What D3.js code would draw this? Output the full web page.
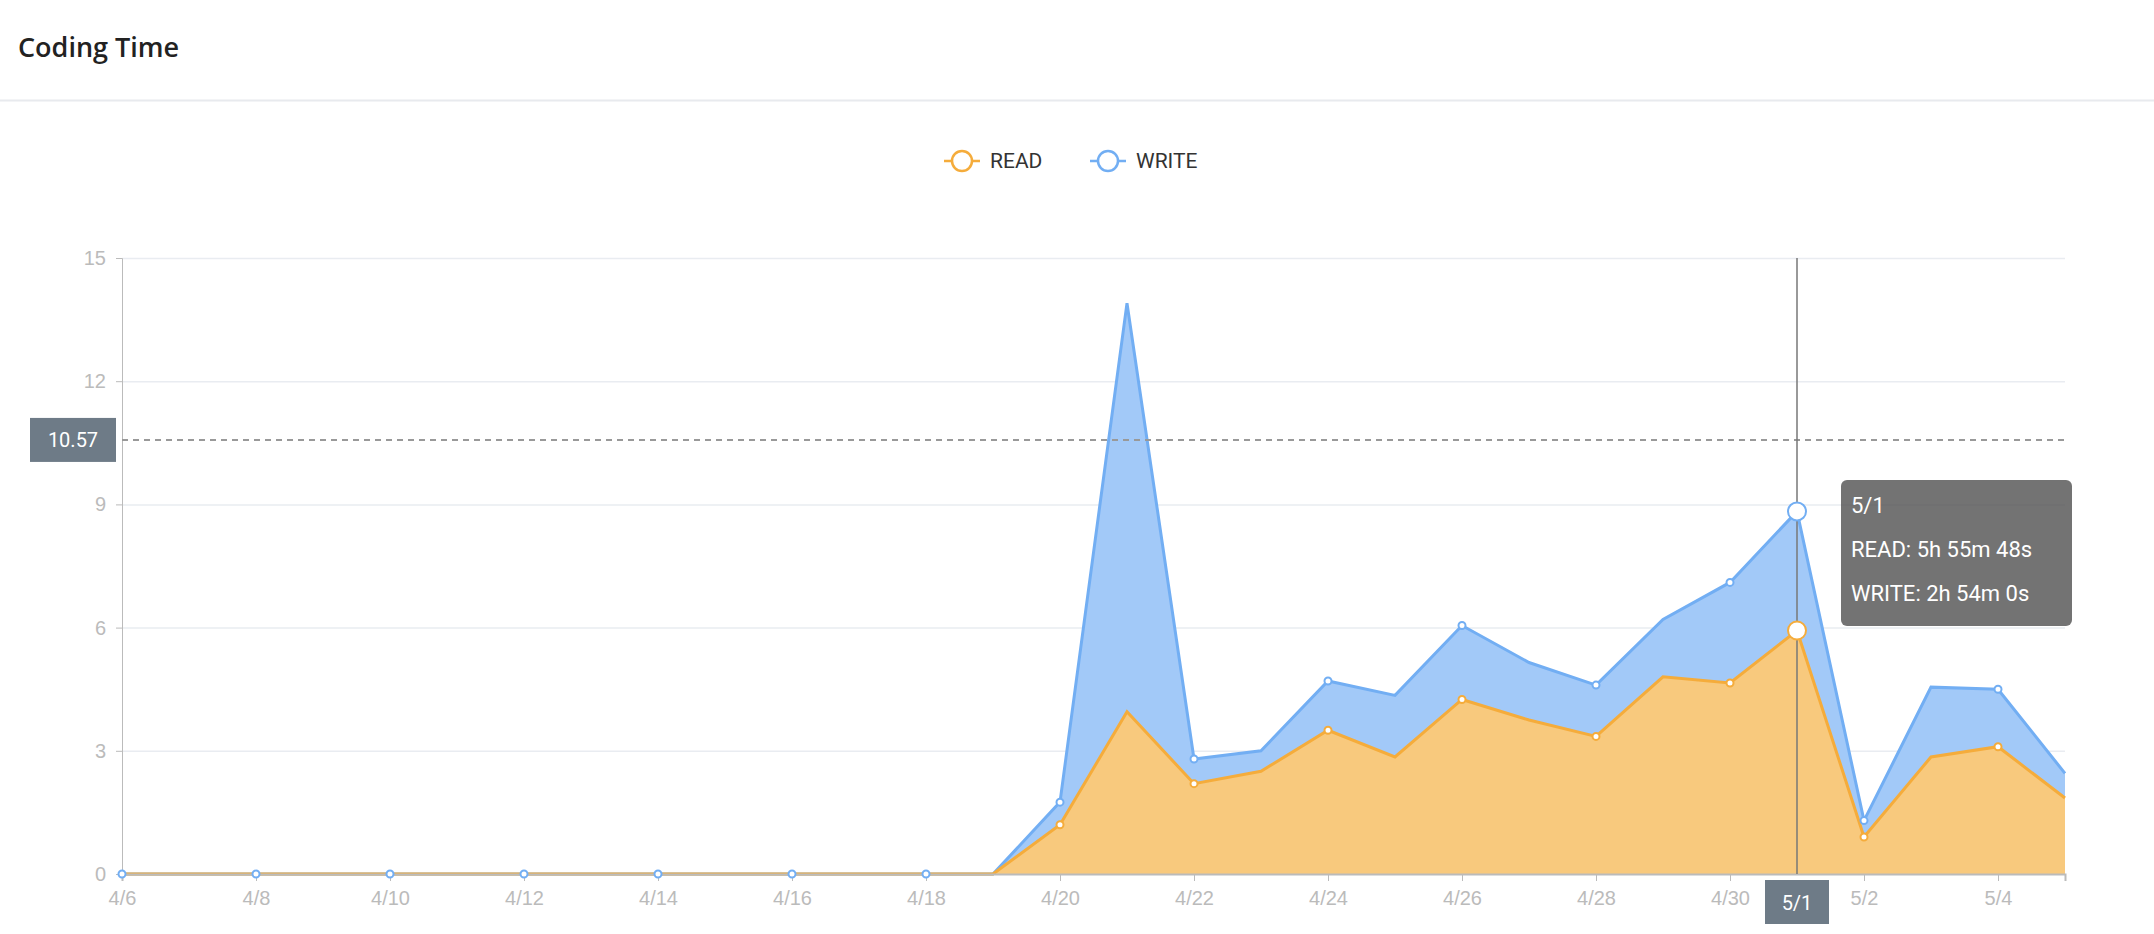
<!DOCTYPE html>
<html>
<head>
<meta charset="utf-8">
<script src="https://cdn.jsdelivr.net/npm/d3@7"></script>
<style>
  body { margin: 0; background: #fff; font-family: "Helvetica Neue", Roboto, "Liberation Sans", sans-serif; }
</style>
</head>
<body>
<svg id="chart" width="2154" height="934"></svg>
<script>
let WIDTH = 2154;
let HEIGHT = 934;

// data (hours)
var days = ["4/6","4/7","4/8","4/9","4/10","4/11","4/12","4/13","4/14","4/15","4/16","4/17","4/18","4/19",
  "4/20","4/21","4/22","4/23","4/24","4/25","4/26","4/27","4/28","4/29","4/30","5/1","5/2","5/3","5/4","5/5"];
var readHours = [0,0,0,0,0,0,0,0,0,0,0,0,0,0,
  1.2,3.95,2.2,2.5,3.5,2.85,4.25,3.75,3.35,4.8,4.65,5.93,0.9,2.85,3.1,1.85];
var writeHours = [0,0,0,0,0,0,0,0,0,0,0,0,0,0,
  0.55,9.95,0.6,0.5,1.2,1.5,1.8,1.4,1.25,1.4,2.45,2.9,0.4,1.7,1.4,0.6];
var yTicks = [0,3,6,9,12,15];
var averageValue = 10.57;
var hoverDay = "5/1";
var tooltipLines = ["5/1", "READ: 5h 55m 48s", "WRITE: 2h 54m 0s"];

var colors = { read: "#f5ac3b", readFill: "#f8c97d", write: "#72aef3", writeFill: "#a2c9f8" };

var svg = d3.select("#chart");

// header
svg.append("text").attr("x", 18).attr("y", 57)
  .style("font-family", "'Open Sans', sans-serif").style("font-weight", 600)
  .style("font-size", "27px").attr("fill", "#222").text("Coding Time");
svg.append("line").attr("x1", 0).attr("x2", WIDTH).attr("y1", 100.5).attr("y2", 100.5)
  .attr("stroke", "#e8eaee").attr("stroke-width", 2);

var margin = { left: 122, right: 2065, top: 258, bottom: 874 };
var x = d3.scalePoint().domain(days).range([margin.left, margin.right]);
var y = d3.scaleLinear().domain([0, 15]).range([margin.bottom, margin.top]);

// grid
var g = svg.append("g");
g.selectAll(".grid").data(yTicks.slice(1)).enter().append("line")
  .attr("x1", margin.left).attr("x2", margin.right)
  .attr("y1", d => y(d) + 0.5).attr("y2", d => y(d) + 0.5)
  .attr("stroke", "#e9ecf1").attr("stroke-width", 1.5);

// y axis
var yAxis = g.append("g").attr("transform", "translate(" + margin.left + ",0)")
  .call(d3.axisLeft(y).tickValues(yTicks).tickSize(6).tickPadding(10));
yAxis.select(".domain").attr("stroke", "#bbb");
yAxis.selectAll(".tick line").attr("stroke", "#bbb");
yAxis.selectAll("text").attr("fill", "#bbb").style("font-size", "20px");

var stacked = days.map((d, i) => ({ day: d, r: readHours[i], t: readHours[i] + writeHours[i] }));

var writeArea = d3.area().x(d => x(d.day)).y0(d => y(d.r)).y1(d => y(d.t));
var readArea = d3.area().x(d => x(d.day)).y0(y(0)).y1(d => y(d.r));

g.append("path").datum(stacked).attr("d", writeArea).attr("fill", colors.writeFill);
g.append("path").datum(stacked).attr("d", readArea).attr("fill", colors.readFill);
g.append("path").datum(stacked).attr("d", d3.line().x(d => x(d.day)).y(d => y(d.t)))
  .attr("fill", "none").attr("stroke", colors.write).attr("stroke-width", 3);
g.append("path").datum(stacked).attr("d", d3.line().x(d => x(d.day)).y(d => y(d.r)))
  .attr("fill", "none").attr("stroke", colors.read).attr("stroke-width", 3);

// x axis
var xAxis = g.append("g").attr("transform", "translate(0," + margin.bottom + ")")
  .call(d3.axisBottom(x).tickValues(days.filter((d, i) => i % 2 === 0)).tickSize(7).tickPadding(10));
xAxis.select(".domain").attr("stroke", "#bbb").attr("stroke-width", 2);
xAxis.selectAll(".tick line").attr("stroke", "#bbb");
xAxis.selectAll("text").attr("fill", "#bbb").style("font-size", "20px");

// average line
g.append("line").attr("x1", margin.left).attr("x2", margin.right)
  .attr("y1", y(averageValue)).attr("y2", y(averageValue))
  .attr("stroke", "#999").attr("stroke-width", 2).attr("stroke-dasharray", "6,5");
g.append("rect").attr("x", 30).attr("y", y(averageValue) - 22).attr("width", 86).attr("height", 44)
  .attr("fill", "#6e7b87");
g.append("text").attr("x", 73).attr("y", y(averageValue) + 7).attr("text-anchor", "middle")
  .attr("fill", "#fff").style("font-size", "20px").text(averageValue);

// crosshair
var hx = x(hoverDay);
g.append("line").attr("x1", hx).attr("x2", hx).attr("y1", margin.top).attr("y2", margin.bottom)
  .attr("stroke", "#777").attr("stroke-width", 1.5);

// symbols on every other point
var sym = stacked.filter((d, i) => i % 2 === 0 && d.day !== hoverDay);
g.selectAll(".wdot").data(sym).enter().append("circle")
  .attr("cx", d => x(d.day)).attr("cy", d => y(d.t)).attr("r", 3.5)
  .attr("fill", "#fff").attr("stroke", colors.write).attr("stroke-width", 2);
g.selectAll(".rdot").data(sym.filter(d => d.r > 0)).enter().append("circle")
  .attr("cx", d => x(d.day)).attr("cy", d => y(d.r)).attr("r", 3.5)
  .attr("fill", "#fff").attr("stroke", colors.read).attr("stroke-width", 2);

var hd = stacked[days.indexOf(hoverDay)];
g.append("circle").attr("cx", hx).attr("cy", y(hd.t)).attr("r", 9)
  .attr("fill", "#fff").attr("stroke", colors.write).attr("stroke-width", 2);
g.append("circle").attr("cx", hx).attr("cy", y(hd.r)).attr("r", 9)
  .attr("fill", "#fff").attr("stroke", colors.read).attr("stroke-width", 2);

// axis pointer label
g.append("rect").attr("x", hx - 32).attr("y", margin.bottom + 6).attr("width", 64).attr("height", 44)
  .attr("fill", "#6e7b87");
g.append("text").attr("x", hx).attr("y", margin.bottom + 36).attr("text-anchor", "middle")
  .attr("fill", "#fff").style("font-size", "20px").text(hoverDay);

// legend
var legend = svg.append("g").attr("transform", "translate(944,161)");
[["READ", colors.read, 0], ["WRITE", colors.write, 146]].forEach(function (l) {
  var lg = legend.append("g").attr("transform", "translate(" + l[2] + ",0)");
  lg.append("line").attr("x1", 0).attr("x2", 36).attr("stroke", l[1]).attr("stroke-width", 2.5);
  lg.append("circle").attr("cx", 18).attr("r", 10).attr("fill", "#fff").attr("stroke", l[1]).attr("stroke-width", 2.5);
  lg.append("text").attr("x", 46).attr("y", 7).attr("fill", "#333").style("font-size", "21px").text(l[0]);
});

// tooltip
var tip = svg.append("g").attr("transform", "translate(1841,480)");
tip.append("rect").attr("width", 231).attr("height", 146).attr("rx", 6).attr("fill", "rgba(80,80,80,0.8)");
tip.selectAll("text").data(tooltipLines).enter().append("text")
  .attr("x", 10).attr("y", (d, i) => 33 + i * 44).attr("fill", "#fff")
  .style("font-size", "22px").text(d => d);
</script>
</body>
</html>
